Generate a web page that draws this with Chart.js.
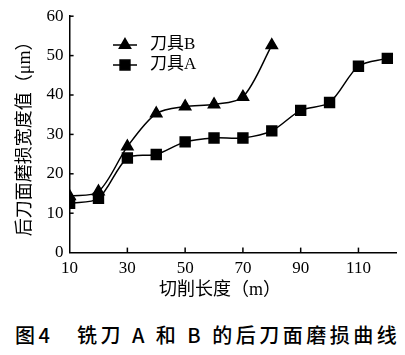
<!DOCTYPE html>
<html><head><meta charset="utf-8">
<script src="https://cdn.jsdelivr.net/npm/chart.js@4"></script>
<style>
html,body{margin:0;padding:0;background:#fff;}
#wrap{position:relative;width:405px;height:355px;}
#c{position:absolute;left:0;top:0;}
#cap{position:absolute;left:15px;top:325px;font:500 20px "Noto Sans CJK SC",sans-serif;letter-spacing:3.5px;white-space:pre;line-height:1;color:#000;}
</style></head>
<body>
<div id="wrap"><canvas id="c" width="405" height="305"></canvas>
<div id="cap">图4　铣刀 A 和 B 的后刀面磨损曲线</div></div>
<script>
const lengthsB = [10, 20, 30, 40, 50, 60, 70, 80];
const wearB = [14.3, 15.5, 26.9, 35.3, 37.1, 37.6, 39.5, 52.6];
const lengthsA = [10, 20, 30, 40, 50, 60, 70, 80, 90, 100, 110, 120];
const wearA = [12.5, 13.8, 24.0, 24.9, 28.1, 29.1, 29.1, 30.9, 36.1, 38.1, 47.3, 49.3];
const xTicks = [10, 30, 50, 70, 90, 110];
const yTicks = [0, 10, 20, 30, 40, 50, 60];
const labelB = '刀具B', labelA = '刀具A';
const xTitle = '切削长度（m）';
const yTitle = '后刀面磨损宽度值（μm）';

const serif = '"Liberation Serif", "Noto Sans CJK SC", serif';

const innerTicks = {
  id: 'innerTicks',
  afterDraw(chart) {
    const ctx = chart.ctx, x = chart.scales.x, y = chart.scales.y;
    ctx.save();
    ctx.strokeStyle = '#000'; ctx.lineWidth = 1.5;
    xTicks.forEach(v => { if (v === x.min) return; const px = x.getPixelForValue(v);
      ctx.beginPath(); ctx.moveTo(px, y.bottom); ctx.lineTo(px, y.bottom - 5); ctx.stroke(); });
    yTicks.forEach(v => { if (v === y.min) return; const py = y.getPixelForValue(v);
      ctx.beginPath(); ctx.moveTo(x.left, py); ctx.lineTo(x.left + 4, py); ctx.stroke(); });
    ctx.fillStyle = '#000';
    ctx.font = '18px ' + serif;
    ctx.textAlign = 'center'; ctx.textBaseline = 'middle';
    ctx.fillText(xTitle, 220, 290);
    ctx.restore();
  }
};

const legendPlugin = {
  id: 'customLegend',
  afterDraw(chart) {
    const ctx = chart.ctx;
    const items = [[labelB, 'triangle', 6.5, 45], [labelA, 'rect', 7, 65]];
    ctx.save();
    items.forEach(([t, st, r, yy]) => {
      ctx.strokeStyle = '#000'; ctx.lineWidth = 1.5;
      ctx.beginPath(); ctx.moveTo(113, yy); ctx.lineTo(137, yy); ctx.stroke();
      ctx.fillStyle = '#000';
      Chart.helpers.drawPoint(ctx, {pointStyle: st, radius: r, rotation: 0, borderWidth: 1}, 125, yy);
      ctx.fillStyle = '#000';
      ctx.font = '17px ' + serif;
      ctx.textBaseline = 'middle';
      ctx.fillText(t, 150, yy);
    });
    ctx.restore();
  }
};

new Chart(document.getElementById('c'), {
  type: 'line',
  data: {
    datasets: [
      {label: labelB, data: lengthsB.map((x, i) => ({x, y: wearB[i]})), borderColor: '#000', backgroundColor: '#000',
       borderWidth: 1.5, pointStyle: 'triangle', pointRadius: 6.5, tension: 0.3},
      {label: labelA, data: lengthsA.map((x, i) => ({x, y: wearA[i]})), borderColor: '#000', backgroundColor: '#000',
       borderWidth: 1.5, pointStyle: 'rect', pointRadius: 7, tension: 0.3}
    ]
  },
  options: {
    responsive: false, animation: false,
    layout: {padding: {left: 14, right: 9, top: 11, bottom: 20}},
    plugins: {legend: {display: false}, tooltip: {enabled: false}},
    scales: {
      x: {type: 'linear', min: 10, max: 123,
        afterBuildTicks: s => { s.ticks = xTicks.map(v => ({value: v})); },
        grid: {display: false, drawTicks: false},
        border: {display: true, color: '#000', width: 1.5},
        ticks: {color: '#000', font: {family: serif, size: 17}, padding: 6},
        title: {display: false}
      },
      y: {min: 0, max: 60,
        afterBuildTicks: s => { s.ticks = yTicks.map(v => ({value: v})); },
        grid: {display: false, drawTicks: false},
        border: {display: true, color: '#000', width: 1.5},
        ticks: {color: '#000', font: {family: serif, size: 17}, padding: 6},
        title: {display: true, text: yTitle, color: '#000', font: {family: serif, size: 18}, padding: {top: 0, bottom: 5}}
      }
    }
  },
  plugins: [innerTicks, legendPlugin]
});
</script>
</body></html>
